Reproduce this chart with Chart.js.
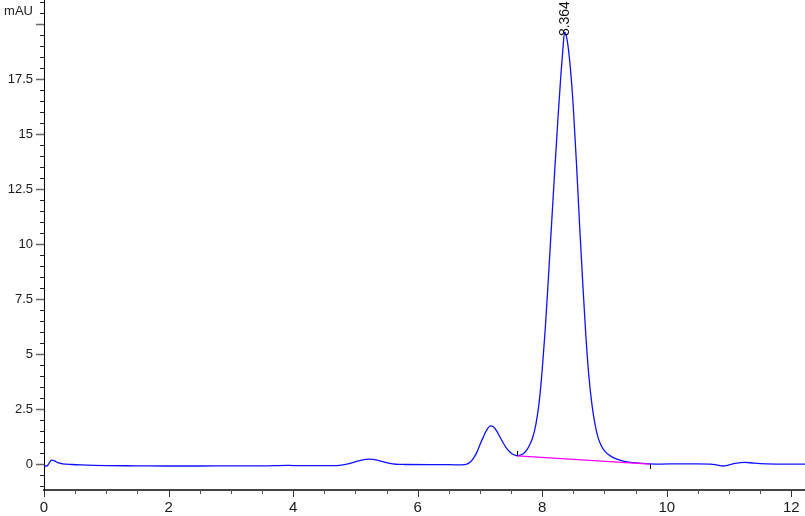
<!DOCTYPE html>
<html>
<head>
<meta charset="utf-8">
<script src="https://cdn.jsdelivr.net/npm/chart.js@4/dist/chart.umd.min.js"></script>
<style>
    html, body { margin: 0; padding: 0; background: #fff; }
    #wrap { width: 805px; height: 516px; }
</style>
</head>
<body>
<div id="wrap"><canvas id="chromatogram" width="805" height="516"></canvas></div>
<script>
// retention time (min) and detector signal (mAU)
const rtMin = [0, 0.05, 0.08, 0.12, 0.17, 0.22, 0.3, 0.45, 0.6, 0.8, 1.0, 1.5, 2.0, 2.5, 3.0, 3.5, 3.9, 4.0, 4.5,
    4.7, 4.8, 4.9, 5.0, 5.1, 5.22, 5.35, 5.45, 5.55, 5.65, 5.8, 6.2, 6.5,
    6.7, 6.78, 6.85, 6.9, 6.95, 7.0, 7.05, 7.1, 7.17, 7.22, 7.27, 7.32, 7.37, 7.42, 7.47, 7.52, 7.57,
    7.6, 7.65, 7.7, 7.75, 7.8, 7.85, 7.9, 7.95, 8.0, 8.05, 8.1, 8.15, 8.2, 8.25, 8.3, 8.33, 8.36,
    8.4, 8.45, 8.5, 8.55, 8.6, 8.65, 8.7, 8.75, 8.8, 8.85, 8.9, 8.95, 9.0, 9.1, 9.2, 9.3, 9.45, 9.6, 9.73,
    9.9, 10.2, 10.5, 10.7, 10.8, 10.9, 11.0, 11.1, 11.25, 11.4, 11.6, 12.0, 12.22];
const mAU = [-0.07, -0.06, 0.05, 0.2, 0.16, 0.08, 0.03, 0.0, -0.02, -0.04, -0.05, -0.06, -0.07, -0.07, -0.06, -0.06, -0.04, -0.05, -0.05,
    -0.05, -0.02, 0.04, 0.12, 0.2, 0.24, 0.2, 0.12, 0.05, 0.01, 0.0, -0.01, -0.01,
    -0.02, 0.0, 0.12, 0.3, 0.55, 0.9, 1.22, 1.52, 1.75, 1.7, 1.52, 1.26, 1.0, 0.77, 0.6, 0.48, 0.41,
    0.39, 0.43, 0.5, 0.65, 0.9, 1.25, 1.85, 2.8, 4.3, 6.2, 8.5, 10.9, 13.3, 15.6, 17.7, 18.8, 19.65,
    19.3, 18.1, 16.2, 13.7, 10.9, 8.3, 5.9, 4.0, 2.7, 1.8, 1.2, 0.85, 0.62, 0.38, 0.24, 0.15, 0.08, 0.05, 0.03,
    0.02, 0.03, 0.03, 0.02, -0.02, -0.07, -0.02, 0.05, 0.1, 0.06, 0.03, 0.02, 0.02];

// integration baseline of the main peak
const baseRt = [7.6, 9.73];
const baseMAU = [0.39, 0.02];

// peak annotation
const peakRt = 8.364;
const peakTop = 19.65;
const peakLabel = "8.364";

const FONT = "'Liberation Sans', Arial, sans-serif";

function toPoints(xs, ys) {
    return xs.map((x, i) => ({ x: x, y: ys[i] }));
}

function isMultiple(v, step) {
    const r = Math.abs(v / step - Math.round(v / step));
    return r < 1e-6;
}

// tick marks: long on labelled values, short on the half steps
const tickMarks = {
    id: "tickMarks",
    afterDraw(chart) {
        const c = chart.ctx;
        const xs = chart.scales.x;
        const ys = chart.scales.y;
        c.save();
        c.lineWidth = 1;
        xs.ticks.forEach((t) => {
            const px = Math.round(xs.getPixelForValue(t.value)) + 0.5;
            const major = isMultiple(t.value, 2);
            c.strokeStyle = major ? "#333" : "#555";
            c.beginPath();
            c.moveTo(px, xs.top);
            c.lineTo(px, xs.top + (major ? 7 : 4));
            c.stroke();
        });
        ys.ticks.forEach((t) => {
            const py = Math.round(ys.getPixelForValue(t.value)) + 0.5;
            const major = isMultiple(t.value, 2.5);
            c.strokeStyle = major ? "#666" : "#222";
            c.lineWidth = major ? 1.5 : 1;
            c.beginPath();
            c.moveTo(ys.right, py);
            c.lineTo(ys.right - (major ? 8 : 4), py);
            c.stroke();
        });

        // baseline start / end markers
        c.strokeStyle = "#000";
        c.lineWidth = 1;
        const bx0 = Math.round(xs.getPixelForValue(baseRt[0])) + 0.5;
        const by0 = ys.getPixelForValue(baseMAU[0]);
        c.beginPath();
        c.moveTo(bx0, by0);
        c.lineTo(bx0, by0 - 5);
        c.stroke();
        const bx1 = Math.round(xs.getPixelForValue(baseRt[1])) + 0.5;
        const by1 = ys.getPixelForValue(baseMAU[1]);
        c.beginPath();
        c.moveTo(bx1, by1);
        c.lineTo(bx1, by1 + 5);
        c.stroke();

        // unit label at the top of the y axis
        c.fillStyle = "#222";
        c.font = "13px " + FONT;
        c.textAlign = "right";
        c.textBaseline = "middle";
        c.fillText("mAU", 33, 11);

        // retention time above the peak, vertical
        const lx = xs.getPixelForValue(peakRt);
        const ly = ys.getPixelForValue(peakTop);
        c.translate(lx, ly + 4);
        c.rotate(-Math.PI / 2);
        c.textAlign = "left";
        c.textBaseline = "middle";
        c.fillStyle = "#111";
        c.font = "14px " + FONT;
        c.fillText(peakLabel, 0, 0);
        c.restore();
    },
};

const ctx = document.getElementById("chromatogram");

new Chart(ctx, {
    type: "line",
    data: {
        datasets: [
            {
                label: "signal",
                data: toPoints(rtMin, mAU),
                borderColor: "#1010ff",
                borderWidth: 1.3,
                pointRadius: 0,
                cubicInterpolationMode: "monotone",
                fill: false,
                order: 2,
            },
            {
                label: "baseline",
                data: toPoints(baseRt, baseMAU),
                borderColor: "#ff00ff",
                borderWidth: 1.2,
                pointRadius: 0,
                tension: 0,
                fill: false,
                order: 1,
            },
        ],
    },
    options: {
        responsive: false,
        animation: false,
        events: [],
        layout: { padding: 0 },
        plugins: {
            legend: { display: false },
            tooltip: { enabled: false },
        },
        scales: {
            x: {
                type: "linear",
                min: 0,
                max: 12.22,
                grid: {
                    display: true,
                    drawOnChartArea: false,
                    drawTicks: true,
                    tickLength: 8,
                    tickColor: "rgba(0,0,0,0)",
                },
                border: { display: true, color: "#444", width: 2 },
                ticks: {
                    stepSize: 0.5,
                    includeBounds: false,
                    autoSkip: false,
                    maxRotation: 0,
                    padding: 1,
                    color: "#1a1a1a",
                    font: { family: FONT, size: 15 },
                    callback: (v) => (isMultiple(v, 2) ? String(Math.round(v)) : ""),
                },
                afterFit(scale) {
                    scale.height = 26;
                    scale.paddingLeft = 0;
                    scale.paddingRight = 0;
                },
            },
            y: {
                type: "linear",
                min: -1.16,
                max: 21.11,
                grid: {
                    display: true,
                    drawOnChartArea: false,
                    drawTicks: true,
                    tickLength: 8,
                    tickColor: "rgba(0,0,0,0)",
                },
                border: { display: true, color: "#000", width: 1 },
                ticks: {
                    stepSize: 0.5,
                    includeBounds: false,
                    autoSkip: false,
                    padding: 3,
                    color: "#1a1a1a",
                    font: { family: FONT, size: 13 },
                    callback: (v) => (isMultiple(v, 2.5) && Math.abs(v - 20) > 1e-6 ? String(Math.round(v * 10) / 10) : ""),
                },
                afterFit(scale) {
                    scale.width = 44;
                    scale.paddingTop = 0;
                    scale.paddingBottom = 0;
                },
            },
        },
    },
    plugins: [tickMarks],
});
</script>
</body>
</html>
